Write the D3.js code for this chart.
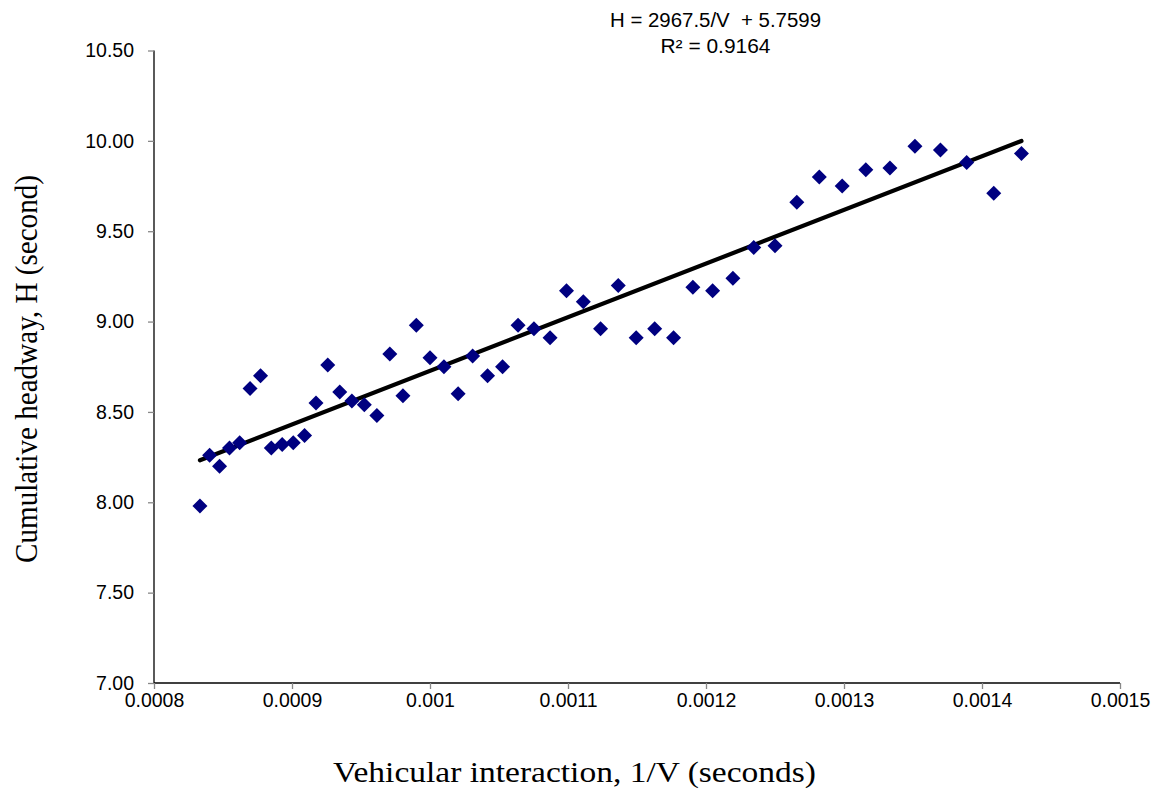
<!DOCTYPE html>
<html><head><meta charset="utf-8">
<script src="https://cdn.jsdelivr.net/npm/d3@7/dist/d3.min.js"></script>
<style>body{margin:0;background:#fff}svg{display:block}</style>
</head><body>
<svg id="c" width="1163" height="796"></svg>
<script>
// Data
const xValues = [0.0008333,0.0008403,0.0008475,0.0008547,0.0008621,0.0008696,0.0008772,0.0008850,0.0008929,0.0009009,
  0.0009091,0.0009174,0.0009259,0.0009346,0.0009434,0.0009524,0.0009615,0.0009709,0.0009804,0.0009901,
  0.0010000,0.0010101,0.0010204,0.0010309,0.0010417,0.0010526,0.0010638,0.0010753,0.0010870,0.0010989,
  0.0011111,0.0011236,0.0011364,0.0011494,0.0011628,0.0011765,0.0011905,0.0012048,0.0012195,0.0012346,
  0.0012500,0.0012658,0.0012821,0.0012987,0.0013158,0.0013333,0.0013514,0.0013699,0.0013889,0.0014085,0.0014286];
const yValues = [7.98,8.26,8.20,8.30,8.33,8.63,8.70,8.30,8.32,8.33,
  8.37,8.55,8.76,8.61,8.56,8.54,8.48,8.82,8.59,8.98,
  8.80,8.75,8.60,8.81,8.70,8.75,8.98,8.96,8.91,9.17,
  9.11,8.96,9.20,8.91,8.96,8.91,9.19,9.17,9.24,9.41,
  9.42,9.66,9.80,9.75,9.84,9.85,9.97,9.95,9.88,9.71,9.93];
const xTicks = [0.0008,0.0009,0.0010,0.0011,0.0012,0.0013,0.0014,0.0015];
const xTickLabels = ["0.0008","0.0009","0.001","0.0011","0.0012","0.0013","0.0014","0.0015"];
const yTicks = [7.0,7.5,8.0,8.5,9.0,9.5,10.0,10.5];
const trendSlope = 2967.5, trendIntercept = 5.7599;
const equationLines = ["H = 2967.5/V\u00a0 + 5.7599", "R\u00b2 = 0.9164"];
const xTitle = "Vehicular interaction, 1/V (seconds)";
const yTitle = "Cumulative headway, H (second)";

const svg = d3.select("#c");
const L = 154, R = 1120, T = 50.5, B = 683;
const x = d3.scaleLinear().domain([0.0008,0.0015]).range([L,R]);
const y = d3.scaleLinear().domain([7,10.5]).range([B,T]);
const sans = "'Liberation Sans', Arial, Helvetica, sans-serif";
const serif = "'Liberation Serif','Times New Roman',serif";

// Axes
const yAxis = d3.axisLeft(y).tickValues(yTicks).tickSize(6).tickFormat(d3.format(".2f"));
const gy = svg.append("g").attr("transform",`translate(${L},0)`).call(yAxis);
const xAxis = d3.axisBottom(x).tickValues(xTicks).tickSize(6).tickFormat((d,i)=>xTickLabels[i]);
const gx = svg.append("g").attr("transform",`translate(0,${B})`).call(xAxis);
[gx,gy].forEach(g=>{
  g.select(".domain").attr("stroke","#000").attr("stroke-width",1.3);
  g.selectAll(".tick line").attr("stroke","#888").attr("stroke-width",1.3);
  g.selectAll(".tick text").attr("fill","#000").style("font-family",sans).style("font-size","19.5px");
});
gy.selectAll(".tick text").attr("x",-20);
gx.selectAll(".tick text").attr("y",10);
gy.select(".domain").attr("d",`M0,${B}V${T}`);
gx.select(".domain").attr("d",`M${L},0H${R}`);

// Trend line
const xs = d3.extent(xValues);
svg.append("line")
  .attr("x1",x(xs[0])).attr("y1",y(trendSlope*xs[0]+trendIntercept))
  .attr("x2",x(xs[1])).attr("y2",y(trendSlope*xs[1]+trendIntercept))
  .attr("stroke","#000").attr("stroke-width",4.2).attr("stroke-linecap","round");

// Points
const pts = xValues.map((v,i)=>({x:v,y:yValues[i]}));
svg.append("g").selectAll("path").data(pts).join("path")
  .attr("transform",d=>`translate(${x(d.x)},${y(d.y)})`)
  .attr("d","M0,-7.5L7.5,0L0,7.5L-7.5,0Z")
  .attr("fill","#000080");

// Equation
const eqLen = [211, 110];
svg.append("g").selectAll("text").data(equationLines).join("text")
  .attr("x",715.5).attr("y",(d,i)=>27+i*26)
  .attr("text-anchor","middle")
  .attr("textLength",(d,i)=>eqLen[i]).attr("lengthAdjust","spacingAndGlyphs")
  .style("font-family",sans).style("font-size","19.5px")
  .text(d=>d);

// Titles
svg.append("text").attr("x",574.5).attr("y",782).attr("text-anchor","middle")
  .attr("textLength",483).attr("lengthAdjust","spacingAndGlyphs")
  .style("font-family",serif).style("font-size","30px").text(xTitle);
svg.append("text").attr("transform","translate(37,369) rotate(-90)").attr("text-anchor","middle")
  .attr("textLength",388).attr("lengthAdjust","spacingAndGlyphs")
  .style("font-family",serif).style("font-size","31px").text(yTitle);
</script>
</body></html>
